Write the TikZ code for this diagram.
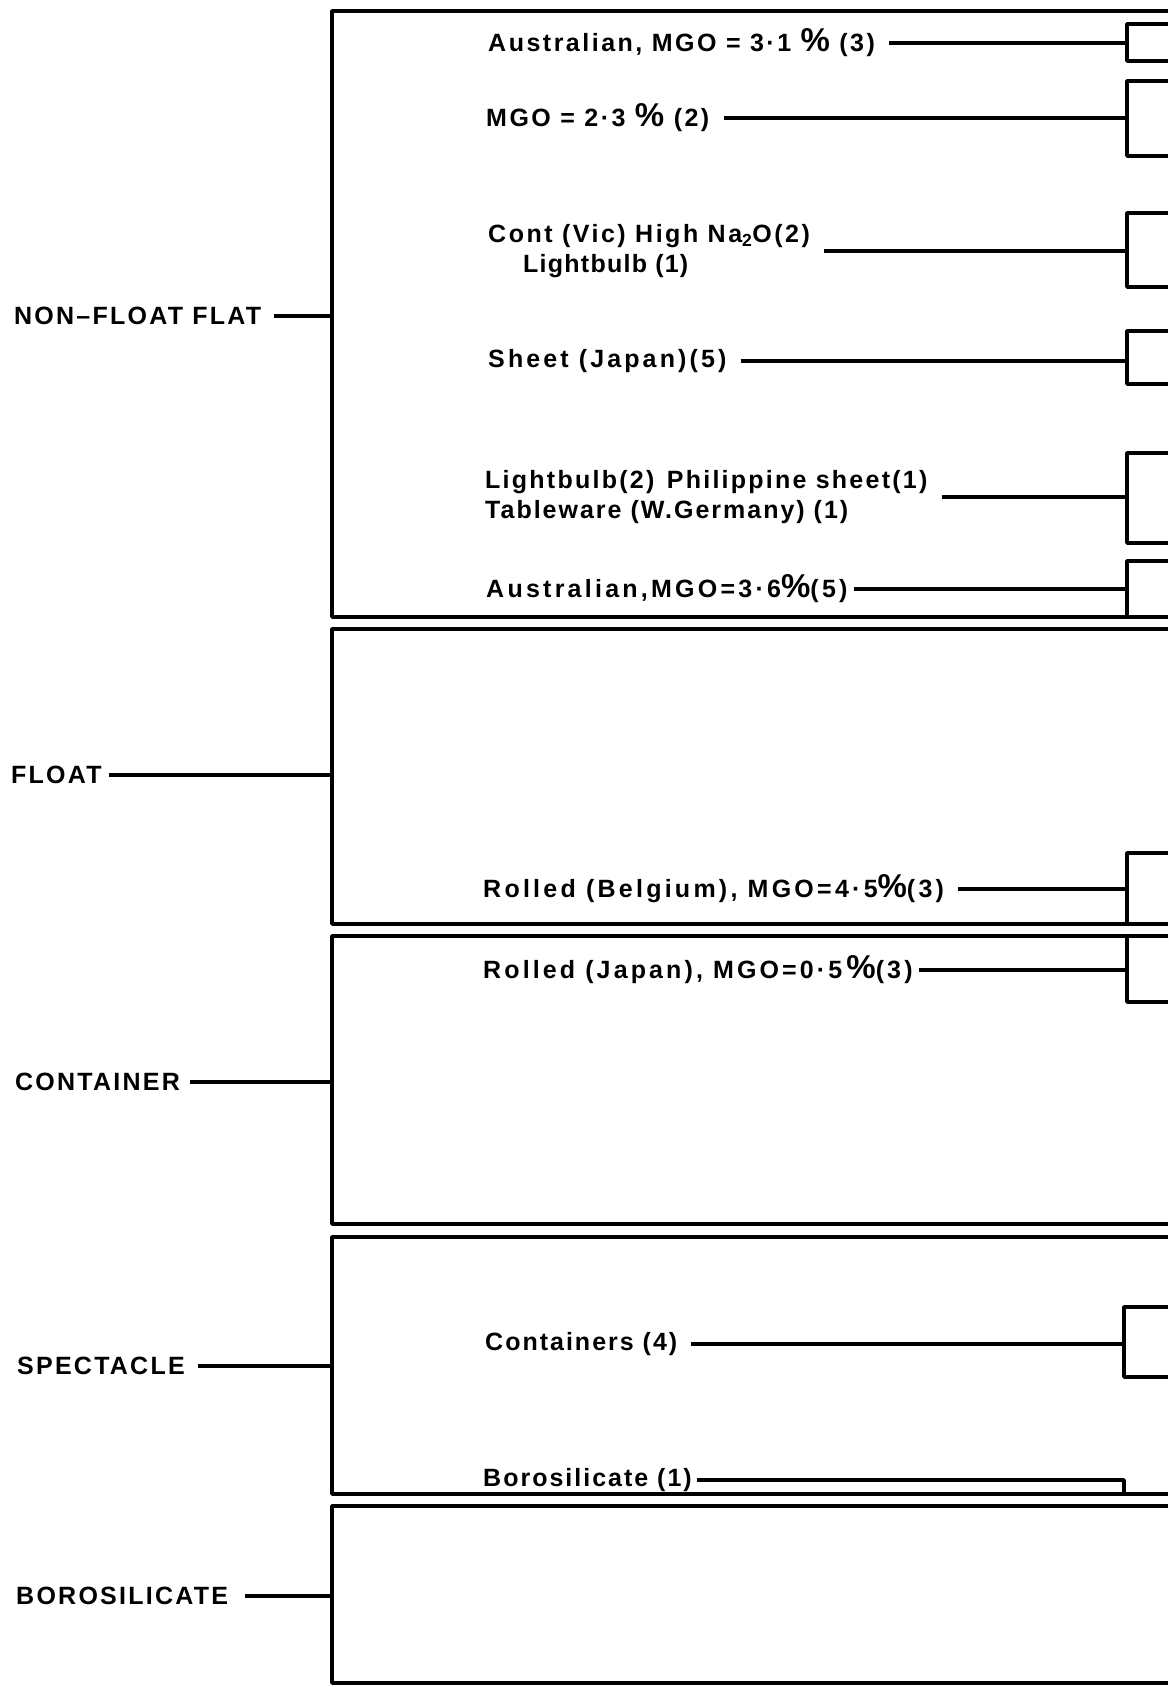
\documentclass[tikz,border=0pt]{standalone}
\usepackage{fontspec}
\setmainfont{Liberation Sans}
\newfontfamily\catfont[LetterSpace=9]{Liberation Sans}
\newfontfamily\labfont[LetterSpace=10]{Liberation Sans}
\newcommand\pcs{{\fontsize{33}{33}\selectfont\%}}
\newcommand\lsp[1]{\addfontfeatures{LetterSpace=#1}}
\begin{document}
\begin{tikzpicture}[x=1pt,y=-1pt]
\tikzset{
  ln/.style={line width=3.6pt, line join=round},
  cat/.style={font=\catfont\bfseries\fontsize{25}{28}\selectfont, anchor=west, inner sep=0pt},
  lab/.style={font=\labfont\bfseries\fontsize{25}{30}\selectfont, anchor=west, inner sep=0pt, align=left},
  conn/.style={ln, shorten <=14pt},
}
\useasboundingbox (0,0) rectangle (1168,1687);
\fill[white] (0,0) rectangle (1168,1687);

% ---- category labels
\node[cat] (nff) at (14,316) {NON–FLOAT FLAT};
\node[cat] (flo) at (11,775) {FLOAT};
\node[cat] (con) at (15,1082) {CONTAINER};
\node[cat] (spe) at (17,1366) {SPECTACLE};
\node[cat] (bor) at (16,1596) {BOROSILICATE};

\coordinate (nffS) at (332,316);
\coordinate (floS) at (332,775);
\coordinate (conS) at (332,1082);
\coordinate (speS) at (332,1366);
\coordinate (borS) at (332,1596);

% ---- big brackets
\draw[ln] (1168,11) -- (332,11) -- (332,617) -- (1168,617);
\draw[ln] (1168,629) -- (332,629) -- (332,924) -- (1168,924);
\draw[ln] (1168,936) -- (332,936) -- (332,1224) -- (1168,1224);
\draw[ln] (1168,1237) -- (332,1237) -- (332,1494) -- (1168,1494);
\draw[ln] (1168,1506) -- (332,1506) -- (332,1683) -- (1168,1683);

\draw[ln, shorten <=13pt] (nff) -- (nffS);
\draw[ln, shorten <=7pt] (flo) -- (floS);
\draw[ln, shorten <=10pt] (con) -- (conS);
\draw[ln, shorten <=13pt] (spe) -- (speS);
\draw[ln, shorten <=17pt] (bor) -- (borS);

% ---- inner labels
\node[lab] (l1) at (488,43) {Australian, MGO = 3·1 \pcs\ (3)};
\node[lab] (l2) at (486,118) {MGO = 2·3 \pcs\ (2)};
\node[lab] (l3) at (488,251) {Cont (Vic) High Na\textsubscript{2}O(2)\\\hspace{35pt}{\lsp{5}Lightbulb (1)}};
\node[lab] (l4) at (488,361) {\lsp{12.5}Sheet (Japan)(5)};
\node[lab] (l5) at (485,497) {{\lsp{9}Lightbulb(2)\enspace Philippine sheet(1)}\\{\lsp{8}Tableware (W.Germany) (1)}};
\node[lab] (l6) at (486,589) {\lsp{13}Australian,MGO=3·6\pcs(5)};
\node[lab] (l7) at (483,889) {\lsp{13}Rolled\ (Belgium),\ MGO=4·5\pcs(3)};
\node[lab] (l8) at (483,970) {\lsp{12.5}Rolled (Japan), MGO=0·5\,\pcs(3)};
\node[lab] (l9) at (485,1344) {\lsp{8}Containers (4)};
\node[lab] (l10) at (483,1480) {\lsp{8}Borosilicate (1)};

% ---- bracket points
\coordinate (b1) at (1127,43);
\coordinate (b2) at (1127,118);
\coordinate (b3) at (1127,251);
\coordinate (b4) at (1127,361);
\coordinate (b5) at (1127,497);
\coordinate (b6) at (1127,589);
\coordinate (b7) at (1127,889);
\coordinate (b8) at (1127,970);
\coordinate (b9) at (1124,1344);
\coordinate (b10) at (1124,1480);

% ---- small brackets
\draw[ln] (1168,24) -- (1127,24) -- (1127,61) -- (1168,61);
\draw[ln] (1168,81) -- (1127,81) -- (1127,156) -- (1168,156);
\draw[ln] (1168,213) -- (1127,213) -- (1127,287) -- (1168,287);
\draw[ln] (1168,331) -- (1127,331) -- (1127,384) -- (1168,384);
\draw[ln] (1168,453) -- (1127,453) -- (1127,543) -- (1168,543);
\draw[ln] (1168,561) -- (1127,561) -- (1127,617);
\draw[ln] (1168,853) -- (1127,853) -- (1127,924);
\draw[ln] (1127,936) -- (1127,1002) -- (1168,1002);
\draw[ln] (1168,1307) -- (1124,1307) -- (1124,1377) -- (1168,1377);

% ---- connectors
\draw[conn] (l1) -- (b1);
\draw[conn] (l2) -- (b2);
\draw[conn] (l3) -- (b3);
\draw[conn] (l4) -- (b4);
\draw[conn] (l5) -- (b5);
\draw[conn, shorten <=6pt] (l6) -- (b6);
\draw[conn] (l7) -- (b7);
\draw[conn, shorten <=6pt] (l8) -- (b8);
\draw[conn] (l9) -- (b9);
\draw[conn, shorten <=5pt] (l10) -- (b10) -- (b10 |- 0,1494);
\end{tikzpicture}
\end{document}
